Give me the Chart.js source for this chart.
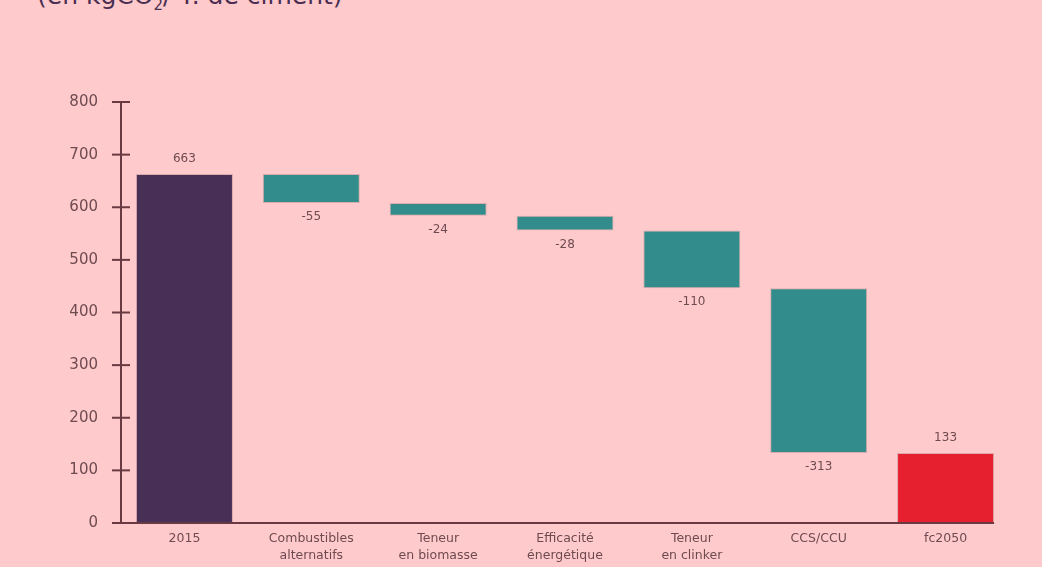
<!DOCTYPE html>
<html lang="fr">
<head>
<meta charset="utf-8">
<script src="https://cdn.jsdelivr.net/npm/chart.js@4.4.1/dist/chart.umd.min.js"></script>
<style>
  html, body { margin: 0; padding: 0; background: #ffcacb; overflow: hidden; }
  #wrap { position: relative; width: 1042px; height: 567px; }
  #unit {
    position: absolute; left: 37px; top: -19px; margin: 0;
    font-family: "DejaVu Sans", sans-serif; font-size: 25px;
    color: #4a2f52; white-space: nowrap;
  }
  #unit sub { font-size: 15px; }
  canvas { position: absolute; left: 0; top: 0; }
</style>
</head>
<body>
<div id="wrap">
  <p id="unit">(en kgCO<sub>2</sub>/ T. de ciment)</p>
  <canvas id="waterfall" width="1042" height="567"></canvas>
</div>
<script>
const categories = [
    '2015',
    ['Combustibles', 'alternatifs'],
    ['Teneur', 'en biomasse'],
    ['Efficacité', 'énergétique'],
    ['Teneur', 'en clinker'],
    'CCS/CCU',
    'fc2050'
];
const startValue = 663;
const reductions = [-55, -24, -28, -110, -313];
const endValue = 133;

const colorStart = '#482f55';
const colorStep = '#338c8c';
const colorEnd = '#e6202e';
const inkColor = '#6a3a42';
const textColor = '#6e4b51';
const fontFamily = '"DejaVu Sans", sans-serif';

// floating bars: [bottom, top] for each step of the waterfall
function buildRanges() {
    const ranges = [[0, startValue]];
    const labels = [startValue];
    let level = startValue;
    for (const step of reductions) {
        const next = level + step;
        ranges.push([Math.min(level, next), Math.max(level, next)]);
        labels.push(step);
        level = next;
    }
    ranges.push([0, endValue]);
    labels.push(endValue);
    return { ranges, labels };
}

const { ranges, labels: valueLabels } = buildRanges();
const barColors = ranges.map((r, i) => i === 0 ? colorStart : (i === ranges.length - 1 ? colorEnd : colorStep));

// axis lines with ticks that cross the y axis, plus the value labels
const waterfallDecor = {
    id: 'waterfallDecor',
    afterDatasetsDraw(chart) {
        const ctx = chart.ctx;
        const yScale = chart.scales.y;
        const meta = chart.getDatasetMeta(0);
        const left = chart.chartArea.left;
        const bottom = yScale.getPixelForValue(0);
        const lastBar = meta.data[meta.data.length - 1];
        const rightEdge = lastBar.x + lastBar.width / 2;

        ctx.save();
        ctx.strokeStyle = inkColor;
        ctx.lineWidth = 2;
        ctx.beginPath();
        ctx.moveTo(left, yScale.getPixelForValue(800));
        ctx.lineTo(left, bottom);
        ctx.stroke();
        ctx.beginPath();
        ctx.moveTo(left - 9, bottom);
        ctx.lineTo(rightEdge, bottom);
        ctx.stroke();
        for (const tick of yScale.ticks) {
            const y = yScale.getPixelForValue(tick.value);
            ctx.beginPath();
            ctx.moveTo(left - 9, y);
            ctx.lineTo(left + 9, y);
            ctx.stroke();
        }

        ctx.fillStyle = textColor;
        ctx.font = '12px ' + fontFamily;
        ctx.textAlign = 'center';
        ctx.textBaseline = 'middle';
        meta.data.forEach((bar, i) => {
            const v = valueLabels[i];
            const top = Math.min(bar.y, bar.base);
            const low = Math.max(bar.y, bar.base);
            if (v > 0) {
                ctx.fillText(String(v), bar.x, top - 15);
            } else {
                ctx.fillText(String(v), bar.x, low + 14);
            }
        });
        ctx.restore();
    }
};

new Chart(document.getElementById('waterfall'), {
    type: 'bar',
    data: {
        labels: categories,
        datasets: [{
            data: ranges,
            backgroundColor: barColors,
            borderColor: 'rgba(50, 25, 35, 0.18)',
            borderWidth: 1,
            borderSkipped: false,
            categoryPercentage: 1,
            barPercentage: 0.765
        }]
    },
    options: {
        responsive: false,
        animation: false,
        layout: { padding: { top: 102, right: 33, left: 0, bottom: 0 } },
        plugins: {
            legend: { display: false },
            tooltip: { enabled: false }
        },
        scales: {
            x: {
                border: { display: false },
                grid: { display: false, drawTicks: false },
                ticks: {
                    color: textColor,
                    padding: 7,
                    maxRotation: 0,
                    autoSkip: false,
                    font: { family: fontFamily, size: 12.5, lineHeight: 1.35 }
                },
                afterFit(scale) { scale.height = 44; }
            },
            y: {
                min: 0,
                max: 800,
                border: { display: false },
                grid: { display: false, drawTicks: false },
                ticks: {
                    stepSize: 100,
                    color: textColor,
                    padding: 23,
                    font: { family: fontFamily, size: 15 }
                },
                afterFit(scale) { scale.width = 121; }
            }
        }
    },
    plugins: [waterfallDecor]
});
</script>
</body>
</html>
